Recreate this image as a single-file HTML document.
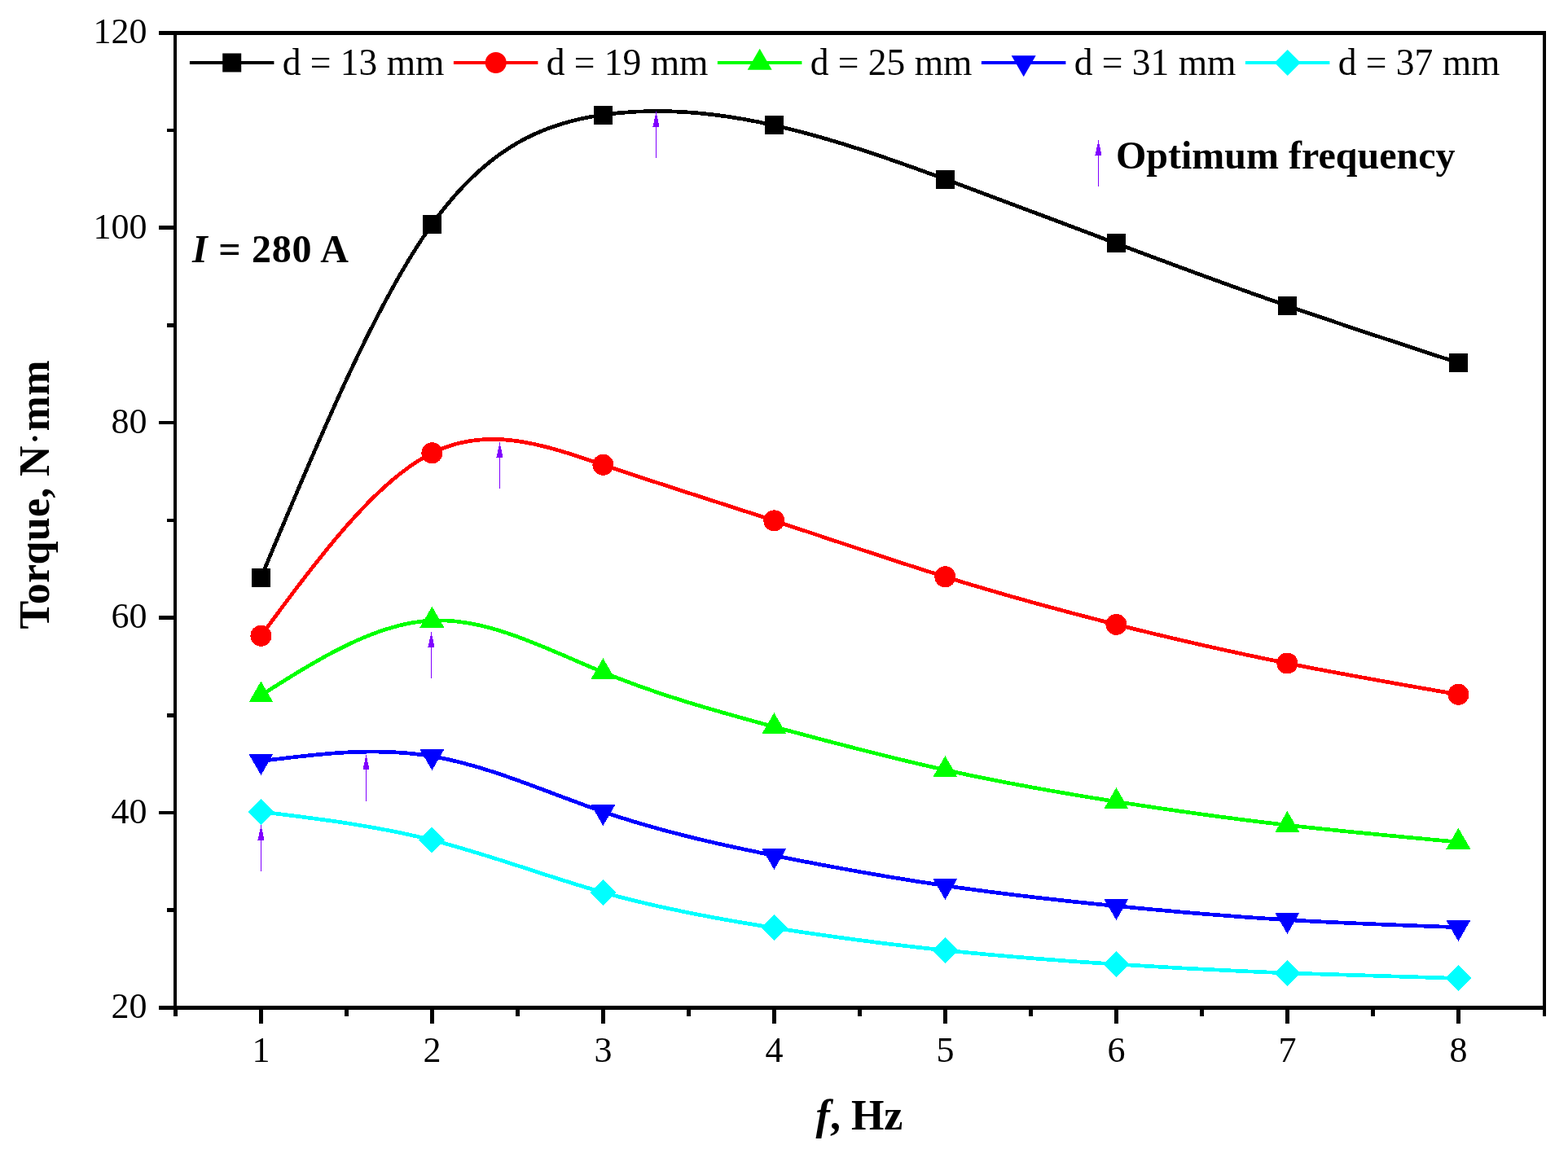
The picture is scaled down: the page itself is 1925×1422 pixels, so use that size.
<!DOCTYPE html><html><head><meta charset="utf-8"><style>html,body{margin:0;padding:0;background:#fff;width:1925px;height:1422px;overflow:hidden;}svg{display:block;}</style></head><body>
<svg width="1925" height="1422" viewBox="0 0 1925 1422">
<rect width="1925" height="1422" fill="#fff"/>
<g shape-rendering="crispEdges">
<path d="M320.40,709.40 C390.40,541.23 460.40,373.07 530.40,275.50 C600.40,177.93 670.40,150.96 740.40,141.00 C810.40,131.04 880.40,138.09 950.40,153.90 C1020.40,169.71 1090.40,194.29 1160.40,220.00 C1230.40,245.71 1300.40,272.54 1370.40,298.90 C1440.40,325.26 1510.40,351.15 1580.40,375.50 C1650.40,399.85 1720.40,422.68 1790.40,445.50" fill="none" stroke="#000000" stroke-width="4.7" stroke-linejoin="round"/>
<path d="M320.40,780.80 C390.40,685.90 460.40,591.00 530.40,556.30 C600.40,521.60 670.40,547.11 740.40,570.80 C810.40,594.49 880.40,616.38 950.40,639.40 C1020.40,662.42 1090.40,686.58 1160.40,708.30 C1230.40,730.02 1300.40,749.29 1370.40,766.90 C1440.40,784.51 1510.40,800.46 1580.40,814.50 C1650.40,828.54 1720.40,840.67 1790.40,852.80" fill="none" stroke="#FF0000" stroke-width="4.7" stroke-linejoin="round"/>
<path d="M320.40,853.80 C390.40,809.48 460.40,765.16 530.40,762.00 C600.40,758.84 670.40,796.82 740.40,825.50 C810.40,854.18 880.40,873.54 950.40,892.50 C1020.40,911.46 1090.40,930.03 1160.40,945.50 C1230.40,960.97 1300.40,973.35 1370.40,984.40 C1440.40,995.45 1510.40,1005.16 1580.40,1013.20 C1650.40,1021.24 1720.40,1027.62 1790.40,1034.00" fill="none" stroke="#00FF00" stroke-width="4.7" stroke-linejoin="round"/>
<path d="M320.40,934.60 C390.40,925.77 460.40,916.94 530.40,928.70 C600.40,940.46 670.40,972.80 740.40,996.80 C810.40,1020.80 880.40,1036.46 950.40,1050.60 C1020.40,1064.74 1090.40,1077.36 1160.40,1087.60 C1230.40,1097.84 1300.40,1105.71 1370.40,1112.60 C1440.40,1119.49 1510.40,1125.41 1580.40,1129.60 C1650.40,1133.79 1720.40,1136.24 1790.40,1138.70" fill="none" stroke="#0000FF" stroke-width="4.7" stroke-linejoin="round"/>
<path d="M320.40,996.80 C390.40,1005.35 460.40,1013.91 530.40,1031.60 C600.40,1049.29 670.40,1076.12 740.40,1095.90 C810.40,1115.68 880.40,1128.40 950.40,1139.40 C1020.40,1150.40 1090.40,1159.69 1160.40,1167.00 C1230.40,1174.31 1300.40,1179.64 1370.40,1184.10 C1440.40,1188.56 1510.40,1192.16 1580.40,1194.90 C1650.40,1197.64 1720.40,1199.52 1790.40,1201.40" fill="none" stroke="#00FFFF" stroke-width="4.7" stroke-linejoin="round"/>
<rect x="308.90" y="697.90" width="23" height="23" fill="#000000"/>
<rect x="518.90" y="264.00" width="23" height="23" fill="#000000"/>
<rect x="728.90" y="129.50" width="23" height="23" fill="#000000"/>
<rect x="938.90" y="142.40" width="23" height="23" fill="#000000"/>
<rect x="1148.90" y="208.50" width="23" height="23" fill="#000000"/>
<rect x="1358.90" y="287.40" width="23" height="23" fill="#000000"/>
<rect x="1568.90" y="364.00" width="23" height="23" fill="#000000"/>
<rect x="1778.90" y="434.00" width="23" height="23" fill="#000000"/>
<circle cx="320.40" cy="780.80" r="13" fill="#FF0000"/>
<circle cx="530.40" cy="556.30" r="13" fill="#FF0000"/>
<circle cx="740.40" cy="570.80" r="13" fill="#FF0000"/>
<circle cx="950.40" cy="639.40" r="13" fill="#FF0000"/>
<circle cx="1160.40" cy="708.30" r="13" fill="#FF0000"/>
<circle cx="1370.40" cy="766.90" r="13" fill="#FF0000"/>
<circle cx="1580.40" cy="814.50" r="13" fill="#FF0000"/>
<circle cx="1790.40" cy="852.80" r="13" fill="#FF0000"/>
<polygon points="320.40,836.48 335.40,862.46 305.40,862.46" fill="#00FF00"/>
<polygon points="530.40,744.68 545.40,770.66 515.40,770.66" fill="#00FF00"/>
<polygon points="740.40,808.18 755.40,834.16 725.40,834.16" fill="#00FF00"/>
<polygon points="950.40,875.18 965.40,901.16 935.40,901.16" fill="#00FF00"/>
<polygon points="1160.40,928.18 1175.40,954.16 1145.40,954.16" fill="#00FF00"/>
<polygon points="1370.40,967.08 1385.40,993.06 1355.40,993.06" fill="#00FF00"/>
<polygon points="1580.40,995.88 1595.40,1021.86 1565.40,1021.86" fill="#00FF00"/>
<polygon points="1790.40,1016.68 1805.40,1042.66 1775.40,1042.66" fill="#00FF00"/>
<polygon points="320.40,951.92 335.40,925.94 305.40,925.94" fill="#0000FF"/>
<polygon points="530.40,946.02 545.40,920.04 515.40,920.04" fill="#0000FF"/>
<polygon points="740.40,1014.12 755.40,988.14 725.40,988.14" fill="#0000FF"/>
<polygon points="950.40,1067.92 965.40,1041.94 935.40,1041.94" fill="#0000FF"/>
<polygon points="1160.40,1104.92 1175.40,1078.94 1145.40,1078.94" fill="#0000FF"/>
<polygon points="1370.40,1129.92 1385.40,1103.94 1355.40,1103.94" fill="#0000FF"/>
<polygon points="1580.40,1146.92 1595.40,1120.94 1565.40,1120.94" fill="#0000FF"/>
<polygon points="1790.40,1156.02 1805.40,1130.04 1775.40,1130.04" fill="#0000FF"/>
<polygon points="320.40,980.80 336.40,996.80 320.40,1012.80 304.40,996.80" fill="#00FFFF"/>
<polygon points="530.40,1015.60 546.40,1031.60 530.40,1047.60 514.40,1031.60" fill="#00FFFF"/>
<polygon points="740.40,1079.90 756.40,1095.90 740.40,1111.90 724.40,1095.90" fill="#00FFFF"/>
<polygon points="950.40,1123.40 966.40,1139.40 950.40,1155.40 934.40,1139.40" fill="#00FFFF"/>
<polygon points="1160.40,1151.00 1176.40,1167.00 1160.40,1183.00 1144.40,1167.00" fill="#00FFFF"/>
<polygon points="1370.40,1168.10 1386.40,1184.10 1370.40,1200.10 1354.40,1184.10" fill="#00FFFF"/>
<polygon points="1580.40,1178.90 1596.40,1194.90 1580.40,1210.90 1564.40,1194.90" fill="#00FFFF"/>
<polygon points="1790.40,1185.40 1806.40,1201.40 1790.40,1217.40 1774.40,1201.40" fill="#00FFFF"/>
<rect x="804.9" y="155.0" width="1.2" height="39.0" fill="#8000FF"/><polygon points="805.5,137.0 809.5,155.5 801.5,155.5" fill="#8000FF"/>
<rect x="612.9" y="561.0" width="1.2" height="39.0" fill="#8000FF"/><polygon points="613.5,543.0 617.5,561.5 609.5,561.5" fill="#8000FF"/>
<rect x="528.9" y="794.0" width="1.2" height="39.0" fill="#8000FF"/><polygon points="529.5,776.0 533.5,794.5 525.5,794.5" fill="#8000FF"/>
<rect x="448.9" y="944.5" width="1.2" height="39.0" fill="#8000FF"/><polygon points="449.5,926.5 453.5,945.0 445.5,945.0" fill="#8000FF"/>
<rect x="319.9" y="1031.0" width="1.2" height="39.0" fill="#8000FF"/><polygon points="320.5,1013.0 324.5,1031.5 316.5,1031.5" fill="#8000FF"/>
<rect x="1347.9" y="190.0" width="1.2" height="39.0" fill="#8000FF"/><polygon points="1348.5,172.0 1352.5,190.5 1344.5,190.5" fill="#8000FF"/>
</g>
<g shape-rendering="crispEdges" fill="#000">
<rect x="195" y="38" width="1703" height="5"/>
<rect x="195" y="1235" width="1703" height="5"/>
<rect x="213" y="38" width="4" height="1210"/>
<rect x="1894" y="38" width="4" height="1210"/>
<rect x="195" y="1235.2" width="20" height="4.5"/>
<rect x="205" y="1115.4" width="10" height="4.5"/>
<rect x="195" y="995.7" width="20" height="4.5"/>
<rect x="205" y="876.0" width="10" height="4.5"/>
<rect x="195" y="756.2" width="20" height="4.5"/>
<rect x="205" y="636.5" width="10" height="4.5"/>
<rect x="195" y="516.8" width="20" height="4.5"/>
<rect x="205" y="397.0" width="10" height="4.5"/>
<rect x="195" y="277.3" width="20" height="4.5"/>
<rect x="205" y="157.6" width="10" height="4.5"/>
<rect x="195" y="37.8" width="20" height="4.5"/>
<rect x="213.1" y="1238" width="4.5" height="10"/>
<rect x="318.1" y="1238" width="4.5" height="19"/>
<rect x="423.1" y="1238" width="4.5" height="10"/>
<rect x="528.1" y="1238" width="4.5" height="19"/>
<rect x="633.1" y="1238" width="4.5" height="10"/>
<rect x="738.1" y="1238" width="4.5" height="19"/>
<rect x="843.1" y="1238" width="4.5" height="10"/>
<rect x="948.1" y="1238" width="4.5" height="19"/>
<rect x="1053.2" y="1238" width="4.5" height="10"/>
<rect x="1158.2" y="1238" width="4.5" height="19"/>
<rect x="1263.2" y="1238" width="4.5" height="10"/>
<rect x="1368.2" y="1238" width="4.5" height="19"/>
<rect x="1473.2" y="1238" width="4.5" height="10"/>
<rect x="1578.2" y="1238" width="4.5" height="19"/>
<rect x="1683.2" y="1238" width="4.5" height="10"/>
<rect x="1788.2" y="1238" width="4.5" height="19"/>
</g>
<g font-family="'Liberation Serif', 'Times New Roman', serif" font-size="44" fill="#000">
<text x="180.5" y="1250.3" text-anchor="end">20</text>
<text x="180.5" y="1010.8" text-anchor="end">40</text>
<text x="180.5" y="771.4" text-anchor="end">60</text>
<text x="180.5" y="531.9" text-anchor="end">80</text>
<text x="180.5" y="292.5" text-anchor="end">100</text>
<text x="180.5" y="53.0" text-anchor="end">120</text>
<text x="320.4" y="1304" text-anchor="middle">1</text>
<text x="530.4" y="1304" text-anchor="middle">2</text>
<text x="740.4" y="1304" text-anchor="middle">3</text>
<text x="950.4" y="1304" text-anchor="middle">4</text>
<text x="1160.4" y="1304" text-anchor="middle">5</text>
<text x="1370.4" y="1304" text-anchor="middle">6</text>
<text x="1580.4" y="1304" text-anchor="middle">7</text>
<text x="1790.4" y="1304" text-anchor="middle">8</text>
</g>
<g font-family="'Liberation Serif', 'Times New Roman', serif" font-size="45.5" fill="#000">
<line x1="232.9" y1="77" x2="336.4" y2="77" stroke="#000000" stroke-width="4.1"/>
<rect x="273.20" y="65.50" width="23" height="23" fill="#000000"/>
<text x="346.7" y="92.4">d = 13 mm</text>
<line x1="556.9" y1="77" x2="660.4" y2="77" stroke="#FF0000" stroke-width="4.1"/>
<circle cx="608.70" cy="77.00" r="13" fill="#FF0000"/>
<text x="670.7" y="92.4">d = 19 mm</text>
<line x1="880.9" y1="77" x2="984.4" y2="77" stroke="#00FF00" stroke-width="4.1"/>
<polygon points="932.70,59.68 947.70,85.66 917.70,85.66" fill="#00FF00"/>
<text x="994.7" y="92.4">d = 25 mm</text>
<line x1="1204.9" y1="77" x2="1308.4" y2="77" stroke="#0000FF" stroke-width="4.1"/>
<polygon points="1256.70,94.32 1271.70,68.34 1241.70,68.34" fill="#0000FF"/>
<text x="1318.7" y="92.4">d = 31 mm</text>
<line x1="1528.9" y1="77" x2="1632.4" y2="77" stroke="#00FFFF" stroke-width="4.1"/>
<polygon points="1580.70,61.00 1596.70,77.00 1580.70,93.00 1564.70,77.00" fill="#00FFFF"/>
<text x="1642.7" y="92.4">d = 37 mm</text>
</g>
<text x="1370" y="207" font-family="'Liberation Serif', 'Times New Roman', serif" font-size="48" font-weight="bold">Optimum frequency</text>
<text x="236" y="322" textLength="192" lengthAdjust="spacing" font-family="'Liberation Serif', 'Times New Roman', serif" font-size="48" font-weight="bold"><tspan font-style="italic">I</tspan> = 280 A</text>
<text x="1055" y="1386.7" text-anchor="middle" font-family="'Liberation Serif', 'Times New Roman', serif" font-size="52" font-weight="bold"><tspan font-style="italic">f</tspan>, Hz</text>
<text transform="translate(59.9,772.5) rotate(-90)" textLength="330" lengthAdjust="spacing" font-family="'Liberation Serif', 'Times New Roman', serif" font-size="52" font-weight="bold">Torque, N<tspan font-weight="normal">·</tspan>mm</text>
</svg></body></html>
